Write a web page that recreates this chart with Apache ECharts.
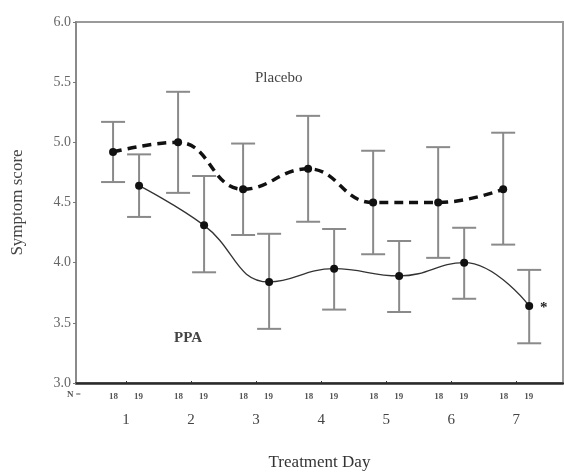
<!DOCTYPE html>
<html>
<head>
<meta charset="utf-8">
<script src="https://cdn.jsdelivr.net/npm/echarts@6/dist/echarts.min.js"></script>
<style>
  html, body { margin: 0; padding: 0; background: #fff; }
  #chart { width: 564px; height: 473px; }
</style>
</head>
<body>
<div id="chart"></div>
<script>
'use strict';

// treatment days and group sizes
const days = [1, 2, 3, 4, 5, 6, 7];
const nPlacebo = [18, 18, 18, 18, 18, 18, 18];
const nPPA = [19, 19, 19, 19, 19, 19, 19];

// mean symptom score with error bar ends
const placeboMean = [4.92, 5.00, 4.61, 4.78, 4.50, 4.50, 4.61];
const placeboLow  = [4.67, 4.58, 4.23, 4.34, 4.07, 4.04, 4.15];
const placeboHigh = [5.17, 5.42, 4.99, 5.22, 4.93, 4.96, 5.08];

const ppaMean = [4.64, 4.31, 3.84, 3.95, 3.89, 4.00, 3.64];
const ppaLow  = [4.38, 3.92, 3.45, 3.61, 3.59, 3.70, 3.33];
const ppaHigh = [4.90, 4.72, 4.24, 4.28, 4.18, 4.29, 3.94];

const yTicks = [3.0, 3.5, 4.0, 4.5, 5.0, 5.5, 6.0];

const shift = 0.2; // placebo drawn left of the day, PPA right
const serif = '"Liberation Serif", "DejaVu Serif", serif';

const placeboPts = days.map((d, i) => [d - shift, placeboMean[i]]);
const ppaPts = days.map((d, i) => [d + shift, ppaMean[i]]);
const bars = days.map((d, i) => [d - shift, placeboLow[i], placeboHigh[i]])
  .concat(days.map((d, i) => [d + shift, ppaLow[i], ppaHigh[i]]));

function renderBar(params, api) {
  const x = api.value(0);
  const lo = api.coord([x, api.value(1)]);
  const hi = api.coord([x, api.value(2)]);
  const w = 12;
  const style = {stroke: '#8a8a8a', lineWidth: 2, fill: null};
  return {
    type: 'group',
    children: [
      {type: 'line', shape: {x1: lo[0], y1: lo[1], x2: hi[0], y2: hi[1]}, style},
      {type: 'line', shape: {x1: lo[0] - w, y1: lo[1], x2: lo[0] + w, y2: lo[1]}, style},
      {type: 'line', shape: {x1: hi[0] - w, y1: hi[1], x2: hi[0] + w, y2: hi[1]}, style}
    ]
  };
}

const chart = echarts.init(document.getElementById('chart'));

chart.setOption({
  animation: false,
  backgroundColor: '#fff',
  textStyle: {fontFamily: serif},
  grid: {
    left: 76, right: 1, top: 22, bottom: 90,
    outerBoundsMode: 'none',
    show: true, borderColor: '#9a9a9a', borderWidth: 2
  },
  xAxis: {
    type: 'value',
    min: 0.23,
    max: 7.72,
    name: 'Treatment Day',
    nameLocation: 'middle',
    nameGap: 71,
    nameTextStyle: {fontFamily: serif, fontSize: 17, color: '#333'},
    splitLine: {show: false},
    axisLine: {lineStyle: {color: '#2a2a2a', width: 2.5}},
    axisTick: {show: true, customValues: days, length: 2, inside: true, lineStyle: {color: '#333'}},
    axisLabel: {
      customValues: days,
      margin: 6,
      formatter: (v) => {
        const i = days.indexOf(v);
        return '{a|' + nPlacebo[i] + '}{b|' + nPPA[i] + '}\n{d|' + v + '}';
      },
      rich: {
        a: {width: 25, align: 'center', fontSize: 9, fontWeight: 'bold', color: '#555', fontFamily: serif, lineHeight: 16},
        b: {width: 25, align: 'center', fontSize: 9, fontWeight: 'bold', color: '#555', fontFamily: serif, lineHeight: 16},
        d: {fontSize: 15, color: '#444', fontFamily: serif, lineHeight: 30}
      }
    }
  },
  yAxis: {
    type: 'value',
    min: 3,
    max: 6,
    interval: 0.5,
    name: 'Symptom score',
    nameLocation: 'middle',
    nameGap: 50,
    nameTextStyle: {fontFamily: serif, fontSize: 17, color: '#444'},
    splitLine: {show: false},
    axisLine: {lineStyle: {color: '#8a8a8a', width: 2}},
    axisTick: {show: true, length: 3, lineStyle: {color: '#777'}},
    axisLabel: {
      margin: 5,
      fontSize: 14,
      color: '#666',
      fontFamily: serif,
      formatter: (v) => yTicks.includes(v) ? v.toFixed(1) : ''
    }
  },
  graphic: [
    {type: 'text', left: 67, top: 390, style: {text: 'N =', font: 'bold 9px ' + serif, fill: '#555'}},
    {type: 'text', left: 255, top: 71, style: {text: 'Placebo', font: '15px ' + serif, fill: '#444'}},
    {type: 'text', left: 174, top: 331, style: {text: 'PPA', font: 'bold 15px ' + serif, fill: '#444'}},
    {type: 'text', left: 540, top: 301, style: {text: '*', font: 'bold 15px ' + serif, fill: '#222'}}
  ],
  series: [
    {
      type: 'custom',
      renderItem: renderBar,
      data: bars,
      z: 1,
      silent: true
    },
    {
      name: 'Placebo',
      type: 'line',
      data: placeboPts,
      smooth: 0.45,
      symbol: 'circle',
      symbolSize: 8,
      itemStyle: {color: '#111'},
      lineStyle: {color: '#111', width: 3.5, type: [9, 6]},
      z: 3
    },
    {
      name: 'PPA',
      type: 'line',
      data: ppaPts,
      smooth: 0.45,
      symbol: 'circle',
      symbolSize: 8,
      itemStyle: {color: '#111'},
      lineStyle: {color: '#333', width: 1.3},
      z: 3
    }
  ]
});
</script>
</body>
</html>
